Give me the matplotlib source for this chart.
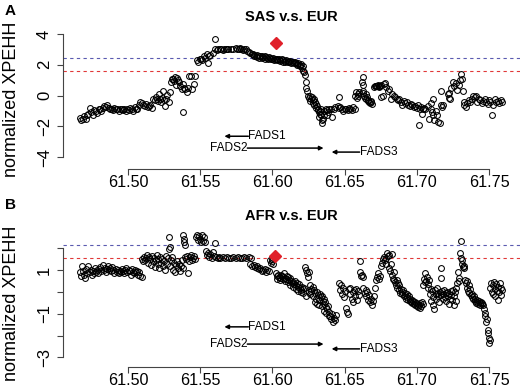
import matplotlib
matplotlib.use('Agg')
from matplotlib import pyplot as plt
import numpy as np

plt.rcParams['font.family'] = ['Liberation Sans', 'DejaVu Sans']

# ---- SAS v.s. EUR (panel A) ----
sas_pos_1 = [61.4667, 61.4675, 61.4685, 61.4695, 61.4705, 61.4715, 61.4725, 61.4735, 61.4745, 61.4755,
             61.4765, 61.4775, 61.4785, 61.4795, 61.4805, 61.4815, 61.4825, 61.4835, 61.4845, 61.4855,
             61.4865, 61.4875, 61.4885, 61.4895, 61.4905, 61.4915, 61.4925, 61.4935, 61.4945, 61.4955,
             61.4965, 61.4975, 61.4985, 61.4995, 61.5005, 61.5015, 61.5025, 61.5035, 61.5045, 61.5055,
             61.5065, 61.5075, 61.5085, 61.5095, 61.5105, 61.5115, 61.5125, 61.5135, 61.5145, 61.5155,
             61.5165]
sas_val_1 = [-1.45, -1.6, -1.5, -1.35, -1.55, -1.3, -1.2, -0.8, -1.1, -1.3,
             -0.95, -1.0, -1.15, -0.9, -0.85, -1.0, -0.8, -0.7, -0.75, -0.65,
             -0.8, -0.9, -0.85, -0.95, -0.8, -0.9, -0.85, -1.0, -0.9, -0.85,
             -0.95, -0.9, -1.0, -0.85, -0.95, -0.8, -0.9, -1.0, -0.75, -0.9,
             -0.85, -0.6, -0.45, -0.5, -0.6, -0.7, -0.55, -0.75, -0.7, -0.65,
             -0.8]
sas_pos_2 = [61.5175, 61.5185, 61.519, 61.5198, 61.5205, 61.5212, 61.522, 61.5228, 61.5235, 61.5242,
             61.525, 61.5258, 61.5265, 61.5272, 61.528, 61.5288, 61.5295, 61.5302, 61.531, 61.5318,
             61.5325, 61.5332, 61.534, 61.5348, 61.5355, 61.5362, 61.537, 61.5378, 61.538, 61.5388,
             61.5395, 61.5405, 61.5415, 61.5425, 61.5435, 61.5445, 61.5455, 61.5465]
sas_val_2 = [-0.2, -0.3, -0.1, -0.25, -0.35, 0.1, -0.2, -0.4, -0.15, 0.3,
             -0.3, -0.7, -0.2, 0.05, -0.45, 0.25, 0.9, 1.05, 1.1, 0.95,
             1.2, 0.7, 1.15, 1.0, 0.85, 0.6, 0.4, 0.75, -1.1, 0.5,
             0.45, 0.2, 0.5, 1.3, 1.25, 0.45, 0.75, 1.3]
sas_pos_3 = [61.5475, 61.5485, 61.5495, 61.5505, 61.5515, 61.5525, 61.5535, 61.5545, 61.5556, 61.556,
             61.557, 61.5602, 61.559, 61.5605, 61.5615, 61.5625, 61.5635, 61.5645, 61.5655, 61.5665,
             61.5675, 61.5685, 61.5695, 61.571, 61.573, 61.5745, 61.5755, 61.5765, 61.5775, 61.5785,
             61.5795, 61.5805, 61.5815, 61.5825, 61.5835, 61.5845, 61.5855]
sas_val_3 = [2.3, 2.2, 2.35, 2.4, 2.3, 2.6, 2.45, 2.7, 2.1, 2.6,
             2.65, 3.7, 2.75, 3.0, 2.95, 3.05, 3.0, 3.0, 2.95, 3.05,
             3.0, 3.0, 3.05, 3.0, 3.05, 3.1, 3.0, 3.05, 3.1, 3.0,
             2.95, 3.0, 3.05, 2.9, 2.85, 2.75, 2.7]
sas_pos_4 = [61.5865, 61.5875, 61.5885, 61.5895, 61.5905, 61.5915, 61.5925, 61.5935, 61.5945, 61.5955,
             61.5965, 61.5975, 61.5985, 61.5995, 61.6005, 61.6015, 61.6025, 61.6035, 61.6045, 61.6055,
             61.6065, 61.6075, 61.6085, 61.6095, 61.6105, 61.6115, 61.6125, 61.6135, 61.6145, 61.6155,
             61.616, 61.617, 61.618, 61.619, 61.62, 61.621, 61.622, 61.6225, 61.623, 61.6235,
             61.624]
sas_val_4 = [2.7, 2.65, 2.6, 2.65, 2.6, 2.55, 2.6, 2.5, 2.55, 2.5,
             2.45, 2.5, 2.45, 2.4, 2.45, 2.4, 2.35, 2.4, 2.35, 2.3,
             2.35, 2.3, 2.25, 2.3, 2.25, 2.2, 2.25, 2.2, 2.15, 2.2,
             2.1, 2.05, 2.1, 2.0, 2.05, 1.95, 1.5, 1.35, 0.85, 0.5,
             0.3]
sas_pos_5 = [61.6245, 61.625, 61.6258, 61.6265, 61.6272, 61.628, 61.6288, 61.6295, 61.6302, 61.631,
             61.6315, 61.632, 61.6325, 61.633, 61.6335, 61.634, 61.6345, 61.635, 61.6355, 61.636,
             61.6368, 61.6375, 61.638, 61.6388, 61.6395, 61.6405, 61.6415, 61.6425, 61.6435, 61.6458,
             61.6452, 61.646, 61.647, 61.648, 61.649, 61.65, 61.651, 61.652, 61.653, 61.654,
             61.655, 61.656, 61.657]
sas_val_5 = [0.0, -0.15, -0.05, -0.25, -0.1, -0.3, -0.2, -0.4, -0.55, -0.7,
             -0.9, -1.1, -1.4, -1.2, -0.85, -1.6, -1.8, -1.5, -1.3, -1.0,
             -0.9, -0.95, -1.25, -1.1, -0.85, -0.9, -1.4, -0.85, -0.75, -0.1,
             -0.7, -0.8, -0.75, -0.9, -1.0, -0.85, -0.9, -0.95, -0.8, -0.85,
             -0.95, -0.75, -0.9]
sas_pos_6 = [61.6575, 61.658, 61.6585, 61.659, 61.6595, 61.66, 61.6625, 61.662, 61.6628, 61.6625,
             61.663, 61.6635, 61.664, 61.6645, 61.665, 61.6655, 61.666, 61.6665, 61.667, 61.6675,
             61.668, 61.6685, 61.669, 61.6705, 61.671, 61.6715, 61.672, 61.6725, 61.673, 61.6735,
             61.674, 61.6745, 61.675, 61.6755, 61.6765]
sas_val_6 = [0.0, 0.2, -0.15, 0.1, -0.05, 0.25, 1.2, 0.9, 0.7, 0.15,
             0.3, 0.0, -0.15, 0.1, -0.25, -0.1, -0.35, -0.3, -0.4, -0.5,
             -0.45, -0.35, -0.55, 0.55, 0.6, 0.65, 0.6, 0.65, 0.7, 0.6,
             0.55, 0.65, 0.7, -0.1, 0.0]
sas_pos_7 = [61.677, 61.678, 61.679, 61.68, 61.681, 61.682, 61.683, 61.684, 61.685, 61.686,
             61.687, 61.688, 61.689, 61.69, 61.691, 61.692, 61.693, 61.694, 61.695, 61.696,
             61.697, 61.698, 61.699, 61.70, 61.701, 61.702, 61.703, 61.7035, 61.7014, 61.704,
             61.705, 61.706, 61.7083, 61.708, 61.711, 61.7095, 61.710, 61.7105, 61.711, 61.712,
             61.713, 61.714, 61.715, 61.716, 61.7165, 61.7165, 61.7175, 61.7185]
sas_val_7 = [0.75, 0.8, 0.55, 0.3, 0.45, -0.2, 0.1, 0.0, -0.1, -0.25,
             -0.3, -0.2, -0.4, -0.65, -0.35, -0.5, -0.45, -0.6, -0.7, -0.55,
             -0.65, -0.75, -0.7, -0.8, -0.65, -0.85, -0.75, -1.2, -1.9, -0.9,
             -0.8, -0.85, -1.5, -0.7, -0.2, -0.5, -0.9, -1.1, -1.3, -1.6,
             -1.0, -1.25, -1.7, -1.8, 0.3, -0.6, -0.75, -0.65]
sas_pos_8 = [61.7215, 61.722, 61.7225, 61.723, 61.724, 61.725, 61.726, 61.727, 61.728, 61.729,
             61.730, 61.7305, 61.731, 61.732, 61.7325, 61.733, 61.734, 61.735, 61.736, 61.737,
             61.738, 61.739, 61.740, 61.741, 61.742, 61.743, 61.744, 61.745, 61.746, 61.747,
             61.748, 61.749, 61.750, 61.751, 61.752, 61.753, 61.754, 61.755, 61.756, 61.757,
             61.758, 61.759]
sas_val_8 = [0.1, -0.15, 0.15, -0.2, 0.5, 0.85, 0.6, 0.8, 0.35, 0.7,
             1.0, 1.4, 1.1, 0.3, -0.45, -0.6, -0.75, -0.5, -0.3, -0.4,
             -0.25, 0.0, -0.1, -0.05, -0.45, -0.2, -0.3, -0.5, -0.35, -0.2,
             -0.45, -0.55, -0.3, -0.4, -1.3, -0.6, -0.25, -0.45, -0.35, -0.5,
             -0.3, -0.4]
# extra SNPs in the dense band before and through the drop
sas_pos_9 = [61.587, 61.589, 61.591, 61.593, 61.595, 61.597, 61.599, 61.601, 61.603, 61.605,
             61.607, 61.609, 61.611, 61.613, 61.615, 61.617, 61.619, 61.6205, 61.6215, 61.6262,
             61.6278, 61.629, 61.6305, 61.6318, 61.6328, 61.6338]
sas_val_9 = [2.55, 2.5, 2.45, 2.45, 2.4, 2.35, 2.35, 2.3, 2.3, 2.25,
             2.2, 2.2, 2.15, 2.1, 2.1, 2.0, 1.95, 1.8, 1.6, -0.35,
             -0.5, -0.6, -0.8, -0.95, -1.0, -1.3]

# ---- AFR v.s. EUR (panel B) ----
afr_pos_1 = [61.4667, 61.4672, 61.468, 61.4688, 61.4695, 61.4703, 61.471, 61.4718, 61.4725, 61.4733,
             61.474, 61.4748, 61.4755, 61.4763, 61.477, 61.4778, 61.4785, 61.4793, 61.48, 61.4808,
             61.4815, 61.4823, 61.483, 61.4838, 61.4845, 61.4853, 61.486, 61.4868, 61.4875, 61.4883,
             61.489, 61.4898, 61.4905, 61.4913, 61.492, 61.4928, 61.4935, 61.4943, 61.495, 61.4958,
             61.4965, 61.4973, 61.498, 61.4988, 61.4995, 61.5003, 61.501, 61.5018, 61.5025, 61.5033,
             61.504, 61.5048, 61.5055, 61.5063, 61.507, 61.5078, 61.5085, 61.5093]
afr_val_1 = [0.9, 0.75, 1.2, 0.95, 0.8, 0.65, 1.05, 0.85, 1.2, 0.9,
             1.0, 0.8, 0.95, 0.85, 1.1, 0.9, 1.0, 0.85, 1.05, 1.15,
             0.95, 1.25, 1.0, 1.1, 0.9, 1.05, 1.2, 1.0, 1.1, 0.95,
             1.15, 1.0, 0.85, 1.05, 0.9, 1.0, 0.85, 0.95, 0.9, 1.05,
             0.95, 0.85, 1.0, 1.1, 0.9, 1.0, 0.95, 0.8, 1.05, 0.9,
             0.85, 1.0, 0.9, 0.95, 0.8, 0.9, 0.75, 0.7]
afr_pos_2 = [61.5097, 61.5103, 61.511, 61.5117, 61.5124, 61.513, 61.5137, 61.5144, 61.515, 61.5157,
             61.5164, 61.517, 61.5177, 61.5184, 61.519, 61.5197, 61.5204, 61.521, 61.5217, 61.5224,
             61.523, 61.5237, 61.5244, 61.525, 61.5257, 61.5264, 61.527, 61.5277, 61.528, 61.5284,
             61.5288, 61.5292, 61.5297, 61.5304, 61.531, 61.5317, 61.5324, 61.533, 61.5337, 61.5344,
             61.535, 61.5357, 61.5364, 61.537, 61.5377, 61.538, 61.5384, 61.539, 61.5394, 61.5397]
afr_val_2 = [1.5, 1.4, 1.6, 1.45, 1.55, 1.7, 1.35, 1.6, 1.5, 1.25,
             1.65, 1.4, 1.55, 1.15, 1.45, 1.7, 1.3, 1.5, 1.1, 1.6,
             1.35, 1.5, 1.2, 1.4, 1.0, 1.65, 1.3, 1.55, 2.5, 1.95,
             2.05, 1.2, 1.45, 1.6, 1.0, 1.35, 0.9, 1.25, 1.4, 1.1,
             1.3, 0.95, 1.2, 1.45, 1.1, 2.6, 2.45, 2.3, 2.15, 1.6]
afr_pos_3 = [61.5402, 61.541, 61.5417, 61.5424, 61.543, 61.5437, 61.5444, 61.545, 61.5457, 61.5465,
             61.547, 61.548, 61.5487, 61.5494, 61.55, 61.5507, 61.5514, 61.552, 61.5527, 61.5534,
             61.554, 61.5548, 61.5555, 61.556, 61.557, 61.558, 61.559, 61.5595, 61.5604, 61.561,
             61.562, 61.563, 61.564, 61.5655, 61.567, 61.5685, 61.57, 61.5715, 61.573, 61.5745,
             61.576, 61.5775, 61.579, 61.5805, 61.582, 61.5835, 61.5845, 61.585, 61.586, 61.587,
             61.588, 61.589, 61.5895, 61.5905, 61.5915, 61.5925, 61.5935, 61.5945, 61.5955, 61.5965,
             61.5975, 61.5985, 61.599, 61.5995, 61.6, 61.6005]
afr_val_3 = [1.5, 1.65, 0.87, 1.4, 1.6, 1.7, 1.45, 1.55, 1.65, 1.5,
             2.5, 2.6, 2.4, 2.55, 2.45, 2.3, 2.6, 2.35, 2.5, 2.3,
             1.9, 1.7, 1.8, 1.6, 1.75, 1.55, 1.85, 1.65, 2.25, 1.6,
             1.55, 1.6, 1.55, 1.6, 1.55, 1.6, 1.55, 1.55, 1.6, 1.55,
             1.6, 1.55, 1.55, 1.6, 1.55, 1.6, 1.3, 1.55, 1.2, 1.25,
             1.15, 1.1, 1.2, 1.05, 1.1, 0.95, 1.0, 1.05, 0.9, 1.0,
             0.95, 1.45, 1.35, 1.5, 1.4, 1.3]
afr_pos_4 = [61.6025, 61.603, 61.6038, 61.6045, 61.6052, 61.606, 61.6067, 61.6074, 61.608, 61.6087,
             61.6094, 61.61, 61.6108, 61.6115, 61.6122, 61.613, 61.6137, 61.6144, 61.615, 61.6157,
             61.6164, 61.617, 61.6178, 61.6185, 61.6192, 61.62, 61.6207, 61.6214, 61.622, 61.6227,
             61.6234, 61.624, 61.6245, 61.625, 61.6255, 61.626, 61.6265, 61.627, 61.6278, 61.6285,
             61.6292, 61.63, 61.6307, 61.6314, 61.632, 61.6327, 61.6334, 61.634, 61.6347, 61.6354,
             61.636, 61.6367, 61.6374, 61.638, 61.6387, 61.6394, 61.64, 61.6407, 61.6414, 61.642,
             61.6427, 61.6434, 61.644]
afr_val_4 = [0.85, 0.75, 0.8, 0.7, 0.65, 0.8, 0.75, 0.7, 0.85, 0.65,
             0.6, 0.75, 0.7, 0.55, 0.65, 0.5, 0.4, 0.45, 0.35, 0.5,
             0.3, 0.4, 0.25, 0.35, 0.2, 0.1, 0.25, 0.15, 0.2, 1.15,
             1.0, 0.85, 0.7, 0.9, 0.0, -0.1, 0.15, 0.05, -0.2, 0.1,
             -0.05, -0.3, 0.0, -0.15, -0.35, -0.1, -0.25, -0.2, -0.4, -0.3,
             -0.55, -0.45, -0.7, -0.8, -0.65, -0.9, -1.1, -1.25, -1.0, -1.4,
             -1.2, -1.3, -1.05]
afr_pos_5 = [61.6458, 61.6465, 61.6472, 61.648, 61.6487, 61.6494, 61.65, 61.6507, 61.6514, 61.652,
             61.6527, 61.6535, 61.654, 61.6548, 61.6555, 61.656, 61.6568, 61.6575, 61.658, 61.6588,
             61.6595, 61.66, 61.6605, 61.661, 61.6615, 61.662, 61.6625, 61.663, 61.6638, 61.6645,
             61.665, 61.6658, 61.6665, 61.667, 61.6678, 61.6685, 61.669, 61.6698, 61.6705, 61.671,
             61.6718, 61.6725, 61.673, 61.6738, 61.6745, 61.675, 61.6758, 61.6765, 61.677, 61.6778,
             61.6785, 61.679]
afr_val_5 = [0.4, 0.1, 0.3, -0.1, 0.2, -0.25, 0.05, -0.75, -0.9, -1.0,
             0.15, -0.1, 0.2, -0.3, 0.0, -0.45, 0.1, -0.2, 0.15, -0.35,
             0.05, -0.15, 0.9, 1.4, 0.75, 0.8, 0.7, 0.2, -0.05, 0.1,
             -0.2, 0.0, -0.35, -0.15, -0.45, -0.3, -0.6, -0.4, -0.2, 0.2,
             0.55, 0.7, 0.87, 0.6, 0.75, 1.2, 1.35, 1.5, 1.6, 1.45,
             1.55, 1.3]
afr_pos_6 = [61.6795, 61.68, 61.6805, 61.681, 61.6815, 61.682, 61.6825, 61.683, 61.6835, 61.684,
             61.6845, 61.685, 61.6855, 61.686, 61.6865, 61.687, 61.6875, 61.688, 61.6885, 61.689,
             61.6895, 61.69, 61.6905, 61.691, 61.6915, 61.692, 61.6925, 61.693, 61.6935, 61.694,
             61.6945, 61.695, 61.6955, 61.696, 61.6965, 61.697, 61.6975, 61.698, 61.6985, 61.699,
             61.6995, 61.70, 61.7005, 61.701, 61.7015, 61.702, 61.7025, 61.703, 61.7035, 61.704]
afr_val_6 = [1.8, 1.65, 1.7, 1.1, 0.95, 1.3, 0.8, 1.75, 0.6, 0.55,
             0.9, 0.45, 0.3, 0.55, 0.2, 0.4, 0.1, 0.3, -0.05, 0.15,
             0.0, -0.1, 0.1, -0.2, -0.05, -0.15, -0.3, -0.1, -0.25, -0.35,
             -0.2, -0.4, -0.3, -0.45, -0.35, -0.5, -0.4, -0.55, -0.45, -0.6,
             -0.5, -0.65, -0.55, -0.7, -0.6, -0.75, -0.5, -0.65, -0.45, -0.55]
afr_pos_7 = [61.7045, 61.705, 61.7055, 61.706, 61.7065, 61.707, 61.7075, 61.708, 61.7085, 61.709,
             61.7095, 61.71, 61.7105, 61.711, 61.7115, 61.712, 61.7125, 61.713, 61.7135, 61.714,
             61.7145, 61.715, 61.7155, 61.716, 61.7165, 61.7167, 61.717, 61.7175, 61.718, 61.7185,
             61.719, 61.7195, 61.72, 61.7205, 61.721, 61.7215, 61.722, 61.7225, 61.723, 61.7235,
             61.724, 61.7245, 61.725, 61.7255, 61.726, 61.7265, 61.727, 61.7275, 61.728, 61.7285,
             61.729, 61.7295, 61.73, 61.7305, 61.7306, 61.731, 61.7315, 61.732, 61.7325, 61.733]
afr_val_7 = [0.3, 0.6, 0.45, 0.85, 0.5, 0.7, 0.35, 0.2, 0.55, -0.1,
             0.15, -0.4, 0.05, -0.6, -0.25, -0.8, 0.1, -0.1, -0.3, 0.2,
             -0.05, -0.2, -0.45, 0.0, 1.1, 0.65, -0.15, 0.05, -0.3, -0.1,
             0.1, -0.25, -0.05, -0.4, 0.0, -0.2, -0.55, -0.1, -0.3, 0.05,
             -0.15, -0.35, 0.1, -0.6, -0.2, 0.0, -0.4, 0.2, 0.4, 0.9,
             0.65, 0.5, 1.8, 1.55, 2.35, 1.45, 1.3, 1.15, 1.2, 1.1]
afr_pos_8 = [61.7335, 61.734, 61.7345, 61.735, 61.7355, 61.736, 61.7365, 61.737, 61.7375, 61.738,
             61.7385, 61.739, 61.7395, 61.74, 61.7405, 61.741, 61.7415, 61.742, 61.7425, 61.743,
             61.7435, 61.744, 61.7445, 61.745, 61.7455, 61.746, 61.7465, 61.747, 61.7475, 61.748,
             61.7485, 61.749, 61.7495, 61.75, 61.7503, 61.7506, 61.751, 61.7515, 61.752, 61.7525,
             61.753, 61.7535, 61.754, 61.7545, 61.755, 61.7555, 61.756, 61.7565, 61.757, 61.7575,
             61.758, 61.7585, 61.759]
afr_val_8 = [0.55, 0.4, 0.2, 0.5, 0.05, 0.3, -0.05, 0.15, -0.15, -0.25,
             -0.1, -0.3, -0.2, -0.4, -0.3, -0.5, -0.35, -0.45, -0.55, -0.4,
             -0.5, -0.6, -0.45, -0.55, -0.5, -0.6, -0.8, -0.95, -1.1, -1.4,
             -1.25, -1.75, -1.9, -2.1, -2.35, -2.2, 0.2, 0.4, 0.0, 0.3,
             -0.1, 0.45, 0.15, -0.2, 0.35, 0.05, -0.35, 0.25, 0.0, 0.4,
             -0.15, 0.2, 0.1]
# extra SNPs in the dense block downstream of the top SNP
afr_pos_9 = [61.6035, 61.6055, 61.607, 61.609, 61.611, 61.6125, 61.614, 61.616, 61.618, 61.6195,
             61.621, 61.623, 61.6262, 61.628, 61.6296, 61.631, 61.6325, 61.634, 61.6355, 61.637,
             61.639]
afr_val_9 = [0.6, 0.55, 0.6, 0.5, 0.45, 0.3, 0.25, 0.15, 0.05, 0.0,
             -0.05, -0.2, 0.3, 0.25, -0.45, -0.55, -0.6, -0.65, -0.85, -0.95,
             -1.1]

# top SNP (red diamond) and thresholds
sas_top = (61.6028, 3.42)
afr_top = (61.6015, 1.65)
sas_lines = (2.42, 1.60)   # blue, red
afr_lines = (2.16, 1.56)

# genes: name, tss (tail of arrow), end (head of arrow)
gene_names = ['FADS1', 'FADS2', 'FADS3']
gene_tss = [61.5833, 61.5826, 61.6604]
gene_end = [61.5667, 61.6354, 61.6410]

sas_pos = np.concatenate([sas_pos_1, sas_pos_2, sas_pos_3, sas_pos_4, sas_pos_5,
                          sas_pos_6, sas_pos_7, sas_pos_8, sas_pos_9])
sas_val = np.concatenate([sas_val_1, sas_val_2, sas_val_3, sas_val_4, sas_val_5,
                          sas_val_6, sas_val_7, sas_val_8, sas_val_9])
afr_pos = np.concatenate([afr_pos_1, afr_pos_2, afr_pos_3, afr_pos_4, afr_pos_5,
                          afr_pos_6, afr_pos_7, afr_pos_8, afr_pos_9])
afr_val = np.concatenate([afr_val_1, afr_val_2, afr_val_3, afr_val_4, afr_val_5,
                          afr_val_6, afr_val_7, afr_val_8, afr_val_9])

W, H = 520, 388
fig = plt.figure(figsize=(W / 100, H / 100), dpi=100)


def panel(rect, pos, val, ylim, yticks, ylabels, lines, top, gene_y):
    ax = fig.add_axes(rect)
    ax.set_xlim(61.4549, 61.7715)
    ax.set_ylim(*ylim)
    ax.axhline(lines[0], color='#5a5ab0', lw=0.8, ls=(0, (3, 3)))
    ax.axhline(lines[1], color='#e03838', lw=0.8, ls=(0, (3, 3)))
    ax.plot(pos, val, 'o', mfc='none', mec='black', ms=4.2, mew=0.75)
    ax.plot(top[0], top[1], 'D', color='#e0202a', ms=6)

    # gene arrows
    for name, tss, end, gy in zip(gene_names, gene_tss, gene_end, gene_y):
        ax.annotate('', xy=(end, gy), xytext=(tss, gy),
                    arrowprops=dict(arrowstyle='-|>', lw=1.1, color='black',
                                    mutation_scale=6, shrinkA=0, shrinkB=0))
        ha = 'left' if end < tss else 'right'
        ax.text(tss, gy, name, ha=ha, va='center', fontsize=8.6)

    for s in ['top', 'right']:
        ax.spines[s].set_visible(False)
    ax.spines['bottom'].set_position(('outward', 5))
    ax.spines['bottom'].set_bounds(61.50, 61.75)
    ax.spines['left'].set_bounds(yticks[0], yticks[-1])
    for s in ['bottom', 'left']:
        ax.spines[s].set_linewidth(0.8)
        ax.spines[s].set_color('#444444')
    ax.set_xticks([61.50, 61.55, 61.60, 61.65, 61.70, 61.75])
    ax.set_xticklabels(['61.50', '61.55', '61.60', '61.65', '61.70', '61.75'])
    ax.set_yticks(yticks)
    ax.set_yticklabels(ylabels, rotation=90, va='center')
    ax.tick_params(direction='out', length=4, width=0.8, color='#444444', labelsize=12)
    ax.tick_params(axis='x', pad=0.3, labelsize=11.6)
    ax.tick_params(axis='y', pad=4)
    return ax


axA = panel([63 / W, 1 - 162 / H, 457 / W, 133 / H], sas_pos, sas_val, (-4.325, 4.325),
            [-4, -2, 0, 2, 4], ['\u22124', '\u22122', '0', '2', '4'], sas_lines, sas_top,
            [-2.65, -3.42, -3.68])
axB = panel([63 / W, 1 - 360 / H, 457 / W, 128 / H], afr_pos, afr_val, (-3.12, 2.75),
            [-3, -2, -1, 0, 1, 2], ['\u22123', '', '\u22121', '', '1', ''], afr_lines, afr_top,
            [-1.6, -2.39, -2.61])

fig.text(291 / W, 1 - 17 / H, 'SAS v.s. EUR', ha='center', va='center', fontsize=10.5, fontweight='bold')
fig.text(291 / W, 1 - 216 / H, 'AFR v.s. EUR', ha='center', va='center', fontsize=10.5, fontweight='bold')
fig.text(10 / W, 1 - 11 / H, 'A', ha='center', va='center', fontsize=11, fontweight='bold')
fig.text(10 / W, 1 - 205 / H, 'B', ha='center', va='center', fontsize=11, fontweight='bold')
fig.text(12 / W, 1 - 99 / H, 'normalized XPEHH', rotation=90, ha='center', va='center', fontsize=13)
fig.text(12 / W, 1 - 303 / H, 'normalized XPEHH', rotation=90, ha='center', va='center', fontsize=13)

fig.savefig('out.png', dpi=100)
